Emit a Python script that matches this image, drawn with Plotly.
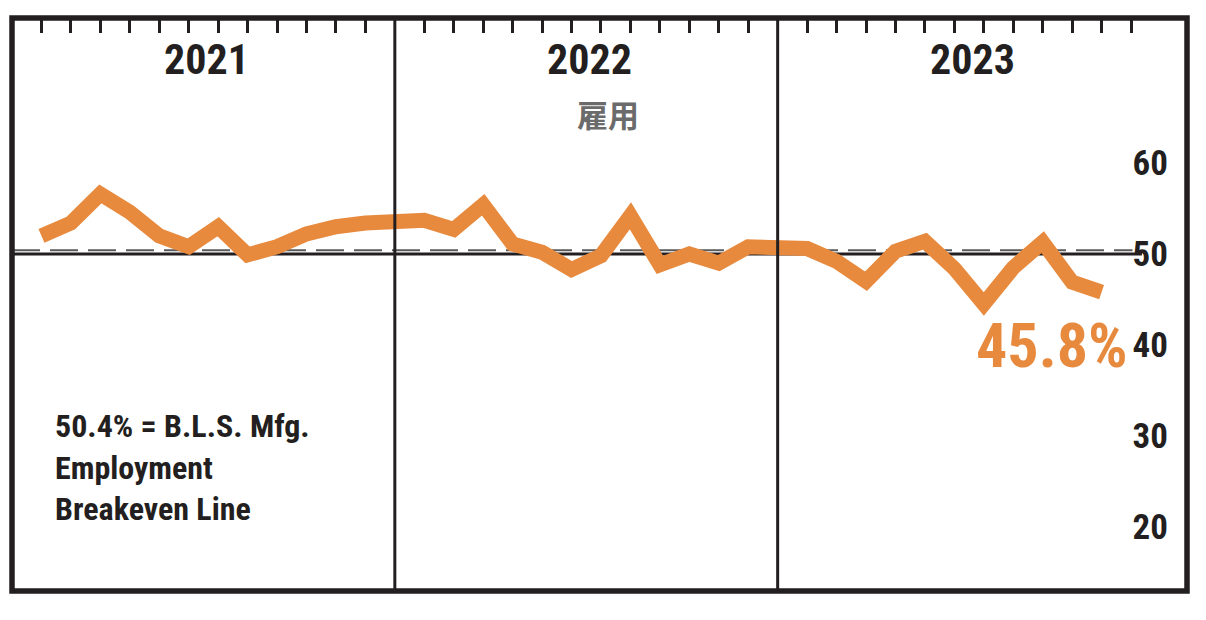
import plotly.graph_objects as go

# ---- data ----
years = ["2021", "2022", "2023"]
values_2021 = [52.0, 53.4, 56.6, 54.6, 52.0, 50.8, 53.0, 49.9, 50.8, 52.2, 53.0, 53.4]
values_2022 = [53.7, 52.7, 55.4, 51.1, 50.2, 48.3, 49.8, 54.2, 48.8, 50.0, 49.0, 50.8]
values_2023 = [50.6, 49.2, 47.0, 50.3, 51.4, 48.4, 44.5, 48.5, 51.3, 46.9, 45.8]
series_by_year = [values_2021, values_2022, values_2023]
breakeven = 50.4
y_tick_values = [20, 30, 40, 50, 60]
y_tick_labels = ["20", "30", "40", "50", "60"]
title_text = "雇用"
note_text = "50.4% = B.L.S. Mfg.<br>Employment<br>Breakeven Line"

# ---- styling ----
INK = "#231f20"
ORANGE = "#E88A3E"
NARROW = "Roboto Condensed, Open Sans Condensed, sans-serif"
SLOTS = 13  # month slots per year panel (12 months + panel gap)

x_vals, y_vals = [], []
for yi, vals in enumerate(series_by_year):
    for mi, v in enumerate(vals):
        x_vals.append(yi * SLOTS + mi + 1)
        y_vals.append(v)

month_ticks = [yi * SLOTS + m for yi in range(len(years)) for m in range(1, 13)]

fig = go.Figure()
fig.add_trace(go.Scatter(
    x=x_vals, y=y_vals, mode="lines",
    line=dict(color=ORANGE, width=15),
    hoverinfo="skip", showlegend=False,
))

x_end = 39.9
shapes = []
# breakeven dashed line and 50 solid line
shapes.append(dict(type="line", xref="x", yref="y", x0=0, x1=38.05, y0=breakeven, y1=breakeven,
                   line=dict(color="#5a5a5a", width=2, dash="28px,10px"), layer="below"))
shapes.append(dict(type="line", xref="x", yref="y", x0=0, x1=38.37, y0=50, y1=50,
                   line=dict(color=INK, width=3.2), layer="below"))
# year dividers
for yi in range(1, len(years)):
    shapes.append(dict(type="line", xref="x", yref="paper", x0=yi * SLOTS, x1=yi * SLOTS, y0=0, y1=1,
                       line=dict(color=INK, width=3)))
# frame
shapes.append(dict(type="rect", xref="paper", yref="paper", x0=0, x1=1, y0=0, y1=1,
                   line=dict(color=INK, width=5.5)))

annotations = []
for yi, yr in enumerate(years):
    annotations.append(dict(x=yi * SLOTS + 6.6, y=0.927, xref="x", yref="paper", text=yr,
                            showarrow=False, xanchor="center", yanchor="middle",
                            font=dict(family=NARROW, size=42, color=INK, weight="bold")))
annotations.append(dict(x=0.507, y=0.834, xref="paper", yref="paper", text=title_text,
                        showarrow=False, xanchor="center", yanchor="middle",
                        font=dict(family="Noto Sans CJK JP", size=31, color="#6b6b6b", weight="bold")))
annotations.append(dict(x=0.0349, y=0.2164, xref="paper", yref="paper", text=note_text,
                        showarrow=False, xanchor="left", yanchor="middle", align="left",
                        font=dict(family=NARROW, size=32, color=INK, weight="bold")))
annotations.append(dict(x=0.8855, y=0.4276, xref="paper", yref="paper",
                        text=f"{values_2023[-1]:.1f}%",
                        showarrow=False, xanchor="center", yanchor="middle",
                        font=dict(family=NARROW, size=62, color=ORANGE, weight="bold")))

fig.update_layout(
    width=1206, height=620,
    margin=dict(l=4, r=27, t=10, b=37, pad=0),
    paper_bgcolor="white", plot_bgcolor="white",
    shapes=shapes, annotations=annotations,
    xaxis=dict(range=[0, x_end], side="top", tickvals=month_ticks, ticks="inside",
               ticklen=15, tickwidth=3, tickcolor=INK, showticklabels=False,
               showgrid=False, zeroline=False, showline=False, fixedrange=True),
    yaxis=dict(range=[12.97, 75.93], side="right", tickvals=y_tick_values, ticktext=y_tick_labels,
               ticks="", ticklabelposition="inside", ticklabelstandoff=16,
               tickfont=dict(family=NARROW, size=35, color=INK, weight="bold"),
               showgrid=False, zeroline=False, showline=False, fixedrange=True),
)

fig.write_html("out.html")
